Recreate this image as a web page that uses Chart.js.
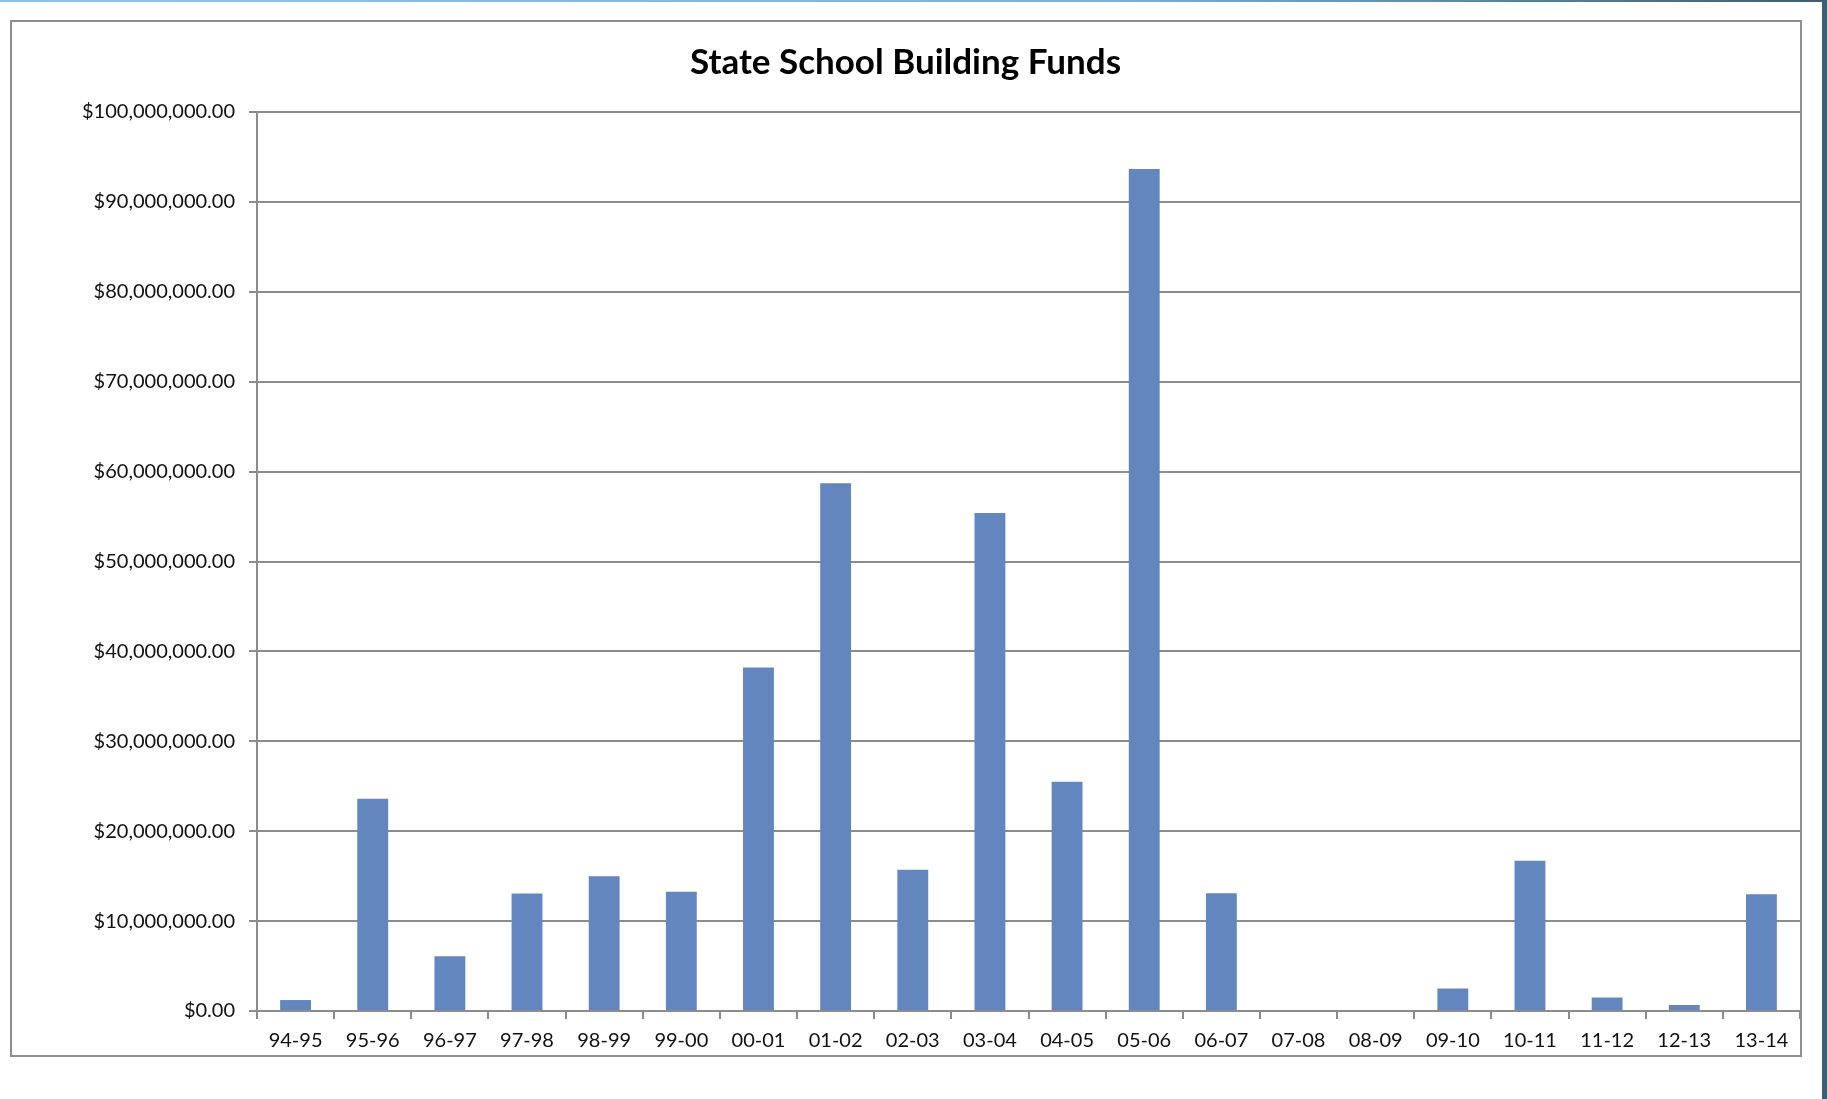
<!DOCTYPE html>
<html>
<head>
<meta charset="utf-8">
<title>State School Building Funds</title>
<script src="https://cdn.jsdelivr.net/npm/chart.js@4/dist/chart.umd.min.js"></script>
<style>
  html, body { margin: 0; padding: 0; background: #fff; }
  #wrap { width: 1827px; height: 1099px; position: relative; }
</style>
</head>
<body>
<div id="wrap"><canvas id="fundsChart"></canvas></div>
<script>
// school years on the x axis
const years = ['94-95', '95-96', '96-97', '97-98', '98-99', '99-00', '00-01', '01-02', '02-03', '03-04',
               '04-05', '05-06', '06-07', '07-08', '08-09', '09-10', '10-11', '11-12', '12-13', '13-14'];

// funds per year (dollars)
const funds = [1220000, 23600000, 6080000, 13070000, 15000000, 13260000, 38200000, 58700000, 15700000, 55400000,
               25500000, 93660000, 13100000, 0, 0, 2500000, 16700000, 1500000, 670000, 13000000];

// y axis ticks
const yMin = 0;
const yMax = 100000000;
const yStep = 10000000;

const fontFam = "Lato, 'Open Sans', sans-serif";
const gridGray = '#8c8c8c';

function money(v) {
    return '$' + Number(v).toLocaleString('en-US', { minimumFractionDigits: 2, maximumFractionDigits: 2 });
}

// frame, top strip and right band like the screenshot
const framePlugin = {
    id: 'frame',
    beforeDraw(chart) {
        const c = chart.ctx;
        const w = chart.width, h = chart.height;
        c.save();
        c.fillStyle = '#ffffff';
        c.fillRect(0, 0, w, h);
        let g = c.createLinearGradient(0, 0, w, 0);
        g.addColorStop(0, '#8cc4e8');
        g.addColorStop(0.6, '#7fb2d6');
        g.addColorStop(1, '#3d5d73');
        c.fillStyle = g;
        c.fillRect(0, 0, w, 2);
        c.fillStyle = '#3d5d73';
        c.fillRect(w - 5, 0, 5, h);
        c.restore();
    },
    afterDraw(chart) {
        const c = chart.ctx;
        c.save();
        c.strokeStyle = '#8e8e8e';
        c.lineWidth = 2;
        c.strokeRect(11, 21, 1790, 1035);
        c.restore();
    }
};

const ctx = document.getElementById('fundsChart').getContext('2d');
const fundsChart = new Chart(ctx, {
    type: 'bar',
    data: {
        labels: years,
        datasets: [{
            label: 'State School Building Funds',
            data: funds,
            backgroundColor: '#6386be',
            borderWidth: 0,
            categoryPercentage: 1.0,
            barPercentage: 0.4
        }]
    },
    options: {
        responsive: true,
        maintainAspectRatio: false,
        animation: false,
        layout: { padding: { left: 11, top: 21, right: 27, bottom: 43 } },
        plugins: {
            legend: { display: false },
            tooltip: { enabled: false },
            title: {
                display: true,
                text: 'State School Building Funds',
                color: '#000',
                font: { family: fontFam, size: 35, weight: 'bold' },
                padding: { top: 21, bottom: 28 }
            }
        },
        scales: {
            x: {
                grid: { drawOnChartArea: false, drawTicks: true, tickLength: 8, color: gridGray, lineWidth: 2, offset: true },
                border: { color: gridGray, width: 2 },
                ticks: { color: '#111', font: { family: fontFam, size: 20 }, padding: 10, maxRotation: 0, autoSkip: false },
                afterFit(s) { s.height = 45; }
            },
            y: {
                min: yMin,
                max: yMax,
                grid: { color: gridGray, lineWidth: 2, tickLength: 8 },
                border: { color: gridGray, width: 2 },
                ticks: {
                    stepSize: yStep,
                    color: '#111',
                    font: { family: fontFam, size: 20 },
                    padding: 14,
                    callback: v => money(v)
                },
                afterFit(s) { s.width = 246; }
            }
        }
    },
    plugins: [framePlugin]
});
</script>
</body>
</html>
